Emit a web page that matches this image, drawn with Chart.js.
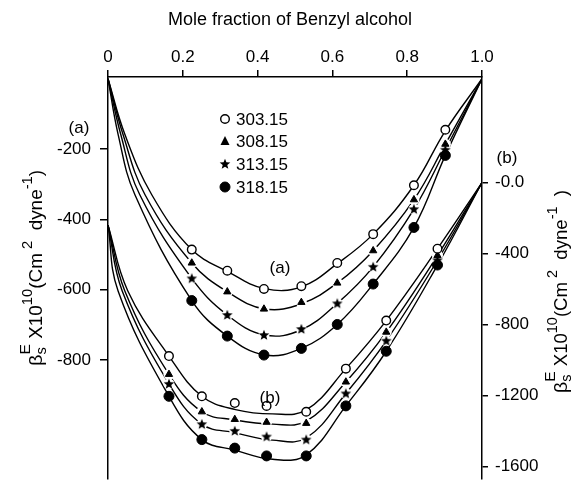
<!DOCTYPE html>
<html>
<head>
<meta charset="utf-8">
<script src="https://cdn.jsdelivr.net/npm/chart.js@4.4.1/dist/chart.umd.min.js"></script>
<style>
  html, body { margin: 0; padding: 0; background: #fff; }
  #wrap { width: 575px; height: 498px; }
</style>
</head>
<body>
<div id="wrap"><canvas id="chart" width="575" height="498"></canvas></div>
<script>
// axis ticks
const xTicks = [0, 0.2, 0.4, 0.6, 0.8, 1.0];
const yTicksA = [-200, -400, -600, -800];
const yTicksB = [0, -400, -800, -1200, -1600];
const temps = ['303.15', '308.15', '313.15', '318.15'];

// set (a), measured points (left axis)
const xA = [0.224, 0.319, 0.417, 0.517, 0.613, 0.709, 0.818, 0.902];
const a303 = [-486, -546, -598, -590, -524, -442, -303, -145];
const a308 = [-524, -606, -655, -636, -581, -489, -344, -186];
const a313 = [-568, -672, -729, -712, -639, -535, -371, -202];
const a318 = [-631, -732, -786, -767, -699, -584, -423, -218];

// set (b), measured points (right axis)
const xB = [0.163, 0.251, 0.339, 0.424, 0.53, 0.636, 0.744, 0.881];
const b303 = [-978, -1205, -1243, -1259, -1292, -1049, -778, -373];
const b308 = [-1081, -1292, -1335, -1351, -1357, -1124, -843, -411];
const b313 = [-1135, -1362, -1400, -1432, -1449, -1189, -892, -438];
const b318 = [-1205, -1449, -1497, -1541, -1541, -1259, -951, -465];

// fitted curves as [x, y]
const curveA303 = [[0, 0], [0.045, -158], [0.117, -330], [0.224, -486], [0.319, -548], [0.419, -597], [0.517, -592], [0.613, -526], [0.709, -442], [0.818, -303], [0.902, -148], [1, 0]];
const curveA308 = [[0, 0], [0.04, -158], [0.099, -330], [0.224, -524], [0.319, -606], [0.419, -655], [0.517, -640], [0.613, -581], [0.709, -489], [0.818, -344], [0.902, -186], [1, 0]];
const curveA313 = [[0, 0], [0.034, -158], [0.085, -330], [0.224, -568], [0.319, -672], [0.419, -729], [0.517, -714], [0.613, -639], [0.709, -535], [0.818, -371], [0.902, -202], [1, 0]];
const curveA318 = [[0, 0], [0.027, -158], [0.072, -330], [0.224, -631], [0.319, -732], [0.419, -786], [0.517, -767], [0.613, -699], [0.709, -584], [0.818, -423], [0.902, -218], [1, 0]];

const curveB303 = [[0, -240], [0.053, -611], [0.163, -978], [0.251, -1205], [0.341, -1280], [0.44, -1304], [0.53, -1282], [0.636, -1049], [0.744, -778], [0.881, -373], [1, 0]];
const curveB308 = [[0, -240], [0.045, -611], [0.163, -1081], [0.251, -1292], [0.339, -1338], [0.44, -1362], [0.53, -1345], [0.636, -1124], [0.744, -843], [0.881, -411], [1, 0]];
const curveB313 = [[0, -240], [0.038, -611], [0.163, -1135], [0.251, -1362], [0.339, -1410], [0.44, -1452], [0.53, -1440], [0.636, -1189], [0.744, -892], [0.881, -438], [1, 0]];
const curveB318 = [[0, -240], [0.027, -611], [0.163, -1205], [0.251, -1449], [0.339, -1508], [0.44, -1560], [0.53, -1535], [0.636, -1259], [0.744, -951], [0.881, -465], [1, 0]];

const FONT = "'Liberation Sans', Arial, sans-serif";

// small filled star used as a point style
const starImg = document.createElement('canvas');
starImg.width = 12;
starImg.height = 12;
(function () {
    const c = starImg.getContext('2d');
    c.beginPath();
    for (let i = 0; i < 10; i++) {
        const r = i % 2 === 0 ? 5.6 : 2.4;
        const a = -Math.PI / 2 + i * Math.PI / 5;
        const px = 6 + r * Math.cos(a), py = 6.3 + r * Math.sin(a);
        if (i === 0) c.moveTo(px, py); else c.lineTo(px, py);
    }
    c.closePath();
    c.fillStyle = '#000';
    c.fill();
})();

const styles = [
    { pointStyle: 'circle', radius: 4.3, bg: '#fff', bw: 1.4 },
    { pointStyle: 'triangle', radius: 4.2, bg: '#000', bw: 1 },
    { pointStyle: starImg, radius: 6, bg: '#000', bw: 0 },
    { pointStyle: 'circle', radius: 5, bg: '#000', bw: 1 },
];

function curve(pts, axis) {
    return {
        data: pts.map(p => ({ x: p[0], y: p[1] })),
        yAxisID: axis,
        showLine: true,
        borderColor: '#000',
        borderWidth: 1.4,
        pointRadius: 0,
        tension: 0.4,
        order: 3,
    };
}

function halo(xs, ys, axis) {
    return {
        data: xs.map((x, i) => ({ x, y: ys[i] })),
        yAxisID: axis,
        showLine: false,
        pointStyle: 'circle',
        pointRadius: 5.5,
        pointBackgroundColor: '#fff',
        pointBorderWidth: 0,
        order: 2,
    };
}

function marks(xs, ys, axis, st) {
    return {
        data: xs.map((x, i) => ({ x, y: ys[i] })),
        yAxisID: axis,
        showLine: false,
        pointStyle: st.pointStyle,
        pointRadius: st.radius,
        pointBackgroundColor: st.bg,
        pointBorderColor: '#000',
        pointBorderWidth: st.bw,
        order: 1,
    };
}

const datasets = [
    curve(curveA303, 'yA'), curve(curveA308, 'yA'), curve(curveA313, 'yA'), curve(curveA318, 'yA'),
    curve(curveB303, 'yB'), curve(curveB308, 'yB'), curve(curveB313, 'yB'), curve(curveB318, 'yB'),
    halo(xA, a308, 'yA'), halo(xA, a313, 'yA'), halo(xB, b308, 'yB'), halo(xB, b313, 'yB'),
    marks(xA, a303, 'yA', styles[0]), marks(xA, a308, 'yA', styles[1]),
    marks(xA, a313, 'yA', styles[2]), marks(xA, a318, 'yA', styles[3]),
    marks(xB, b303, 'yB', styles[0]), marks(xB, b308, 'yB', styles[1]),
    marks(xB, b313, 'yB', styles[2]), marks(xB, b318, 'yB', styles[3]),
];

// draws a rotated title with sub/superscripts, reading bottom to top,
// stretched along its length to span `len` pixels
function rotatedTitle(ctx, x, y, parts, len) {
    ctx.save();
    ctx.translate(x, y);
    ctx.rotate(-Math.PI / 2);
    ctx.textBaseline = 'alphabetic';
    ctx.textAlign = 'left';
    const place = [];
    let pos = 0, held = 0;
    parts.forEach(p => {
        ctx.font = p.s + 'px ' + FONT;
        place.push(pos);
        const w = ctx.measureText(p.t).width;
        if (p.keep) {
            held = w;
        } else {
            pos += Math.max(w, held);
            held = 0;
        }
    });
    ctx.scale(len / pos, 1);
    parts.forEach((p, i) => {
        ctx.font = p.s + 'px ' + FONT;
        ctx.fillText(p.t, place[i], p.dy || 0);
    });
    ctx.restore();
}

function titleParts(close) {
    return [
        { t: 'β', s: 19 },
        { t: 's', s: 14, dy: 4, keep: true },
        { t: 'E', s: 15, dy: -12 },
        { t: ' X10', s: 18 },
        { t: '10', s: 14, dy: -10 },
        { t: '(Cm', s: 18 },
        { t: ' 2', s: 14, dy: -10 },
        { t: '  dyne', s: 18 },
        { t: '-1', s: 14, dy: -10 },
        { t: close, s: 18 },
    ];
}

const annotations = {
    id: 'annotations',
    beforeDraw(chart) {
        const ctx = chart.ctx;
        ctx.save();
        ctx.fillStyle = '#fff';
        ctx.fillRect(0, 0, chart.width, chart.height);
        ctx.restore();
    },
    afterDraw(chart) {
        const ctx = chart.ctx;
        ctx.save();
        ctx.fillStyle = '#000';
        ctx.textBaseline = 'middle';
        ctx.textAlign = 'center';
        ctx.font = '18px ' + FONT;
        ctx.fillText('Mole fraction of Benzyl alcohol', 290, 20);

        ctx.font = '17px ' + FONT;
        ctx.fillText('(a)', 79, 128);
        ctx.fillText('(a)', 280, 268);
        ctx.fillText('(b)', 270, 398);
        ctx.fillText('(b)', 507, 158);

        // legend
        const rows = [119, 141, 164, 187];
        ctx.textAlign = 'left';
        ctx.font = '17px ' + FONT;
        rows.forEach((ry, i) => {
            const mx = 225;
            const st = styles[i];
            if (i === 0 || i === 3) {
                ctx.beginPath();
                ctx.arc(mx, ry, st.radius, 0, Math.PI * 2);
                ctx.fillStyle = st.bg;
                ctx.fill();
                ctx.lineWidth = st.bw;
                ctx.strokeStyle = '#000';
                ctx.stroke();
            } else if (i === 1) {
                ctx.beginPath();
                ctx.moveTo(mx, ry - 5);
                ctx.lineTo(mx + 4.5, ry + 4);
                ctx.lineTo(mx - 4.5, ry + 4);
                ctx.closePath();
                ctx.fillStyle = '#000';
                ctx.fill();
            } else {
                ctx.drawImage(starImg, mx - 6, ry - 6);
            }
            ctx.fillStyle = '#000';
            ctx.fillText(temps[i], 236, ry + 1);
        });

        rotatedTitle(ctx, 42, 366, titleParts(')'), 196);
        rotatedTitle(ctx, 567, 393, titleParts('  )'), 203);
        ctx.restore();
    }
};

const tickFont = { family: FONT, size: 17 };

new Chart(document.getElementById('chart'), {
    type: 'scatter',
    data: { datasets },
    plugins: [annotations],
    options: {
        responsive: false,
        animation: false,
        layout: { padding: { bottom: 2 } },
        plugins: {
            legend: { display: false },
            tooltip: { enabled: false },
        },
        scales: {
            x: {
                type: 'linear',
                position: 'top',
                min: 0,
                max: 1,
                afterBuildTicks: s => { s.ticks = xTicks.map(v => ({ value: v })); },
                afterFit: s => { s.height = 77; },
                ticks: {
                    color: '#000',
                    font: tickFont,
                    padding: 2,
                    maxRotation: 0,
                    autoSkip: false,
                    callback: v => (v === 0 ? '0' : v.toFixed(1)),
                },
                grid: { drawOnChartArea: false, tickLength: 7, color: '#000', lineWidth: 1.5 },
                border: { color: '#000', width: 1.5 },
            },
            yA: {
                type: 'linear',
                position: 'left',
                min: -1138,
                max: 5,
                afterBuildTicks: s => { s.ticks = yTicksA.map(v => ({ value: v })); },
                afterFit: s => { s.width = 108; },
                ticks: { color: '#000', font: tickFont, padding: 9, autoSkip: false, callback: v => String(v) },
                grid: { drawOnChartArea: false, tickLength: 8, color: '#000', lineWidth: 1.5 },
                border: { color: '#000', width: 1.5 },
            },
            yB: {
                type: 'linear',
                position: 'right',
                min: -1670,
                max: 595,
                afterBuildTicks: s => { s.ticks = yTicksB.map(v => ({ value: v })); },
                afterFit: s => { s.width = 93; },
                ticks: { color: '#000', font: tickFont, padding: 7, autoSkip: false, callback: v => (v === 0 ? '-0.0' : String(v)) },
                grid: { drawOnChartArea: false, tickLength: 6, color: '#000', lineWidth: 1.5 },
                border: { color: '#000', width: 1.5 },
            },
        },
    },
});
</script>
</body>
</html>
